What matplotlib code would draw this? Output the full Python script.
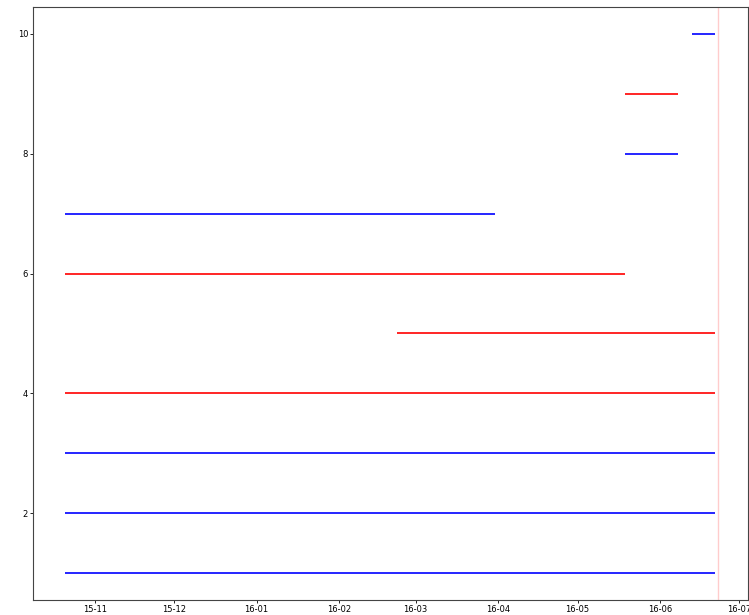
import datetime as dt
import matplotlib
matplotlib.use('Agg')
import matplotlib.pyplot as plt
import matplotlib.dates as mdates

# one horizontal bar per row: row id, start date, end date, colour
rows = [1, 2, 3, 4, 5, 6, 7, 8, 9, 10]
starts = ['2015-10-21', '2015-10-21', '2015-10-21', '2015-10-21', '2016-02-23',
          '2015-10-21', '2015-10-21', '2016-05-19', '2016-05-19', '2016-06-13']
ends = ['2016-06-22', '2016-06-22', '2016-06-22', '2016-06-22', '2016-06-22',
        '2016-05-19', '2016-03-31', '2016-06-08', '2016-06-08', '2016-06-22']
colors = ['b', 'b', 'b', 'r', 'r', 'r', 'b', 'b', 'r', 'b']
today = '2016-06-23'

def d(s):
    return dt.datetime.strptime(s, '%Y-%m-%d')

fig = plt.figure(figsize=(7.49, 6.15), dpi=100)
ax = fig.add_axes([33/749, 15/615, 715/749, 593/615])

ax.hlines(rows, [d(s) for s in starts], [d(e) for e in ends], colors=colors, lw=1.2)
ax.axvline(d(today), color='red', alpha=0.2, lw=1)

ax.xaxis.set_major_locator(mdates.MonthLocator())
ax.xaxis.set_major_formatter(mdates.DateFormatter('%y-%m'))
ax.tick_params(labelsize=6, length=2, width=0.6, pad=1.5)
for sp in ax.spines.values():
    sp.set_linewidth(0.8)
    sp.set_color('#444444')

fig.savefig('out.png', dpi=100)
